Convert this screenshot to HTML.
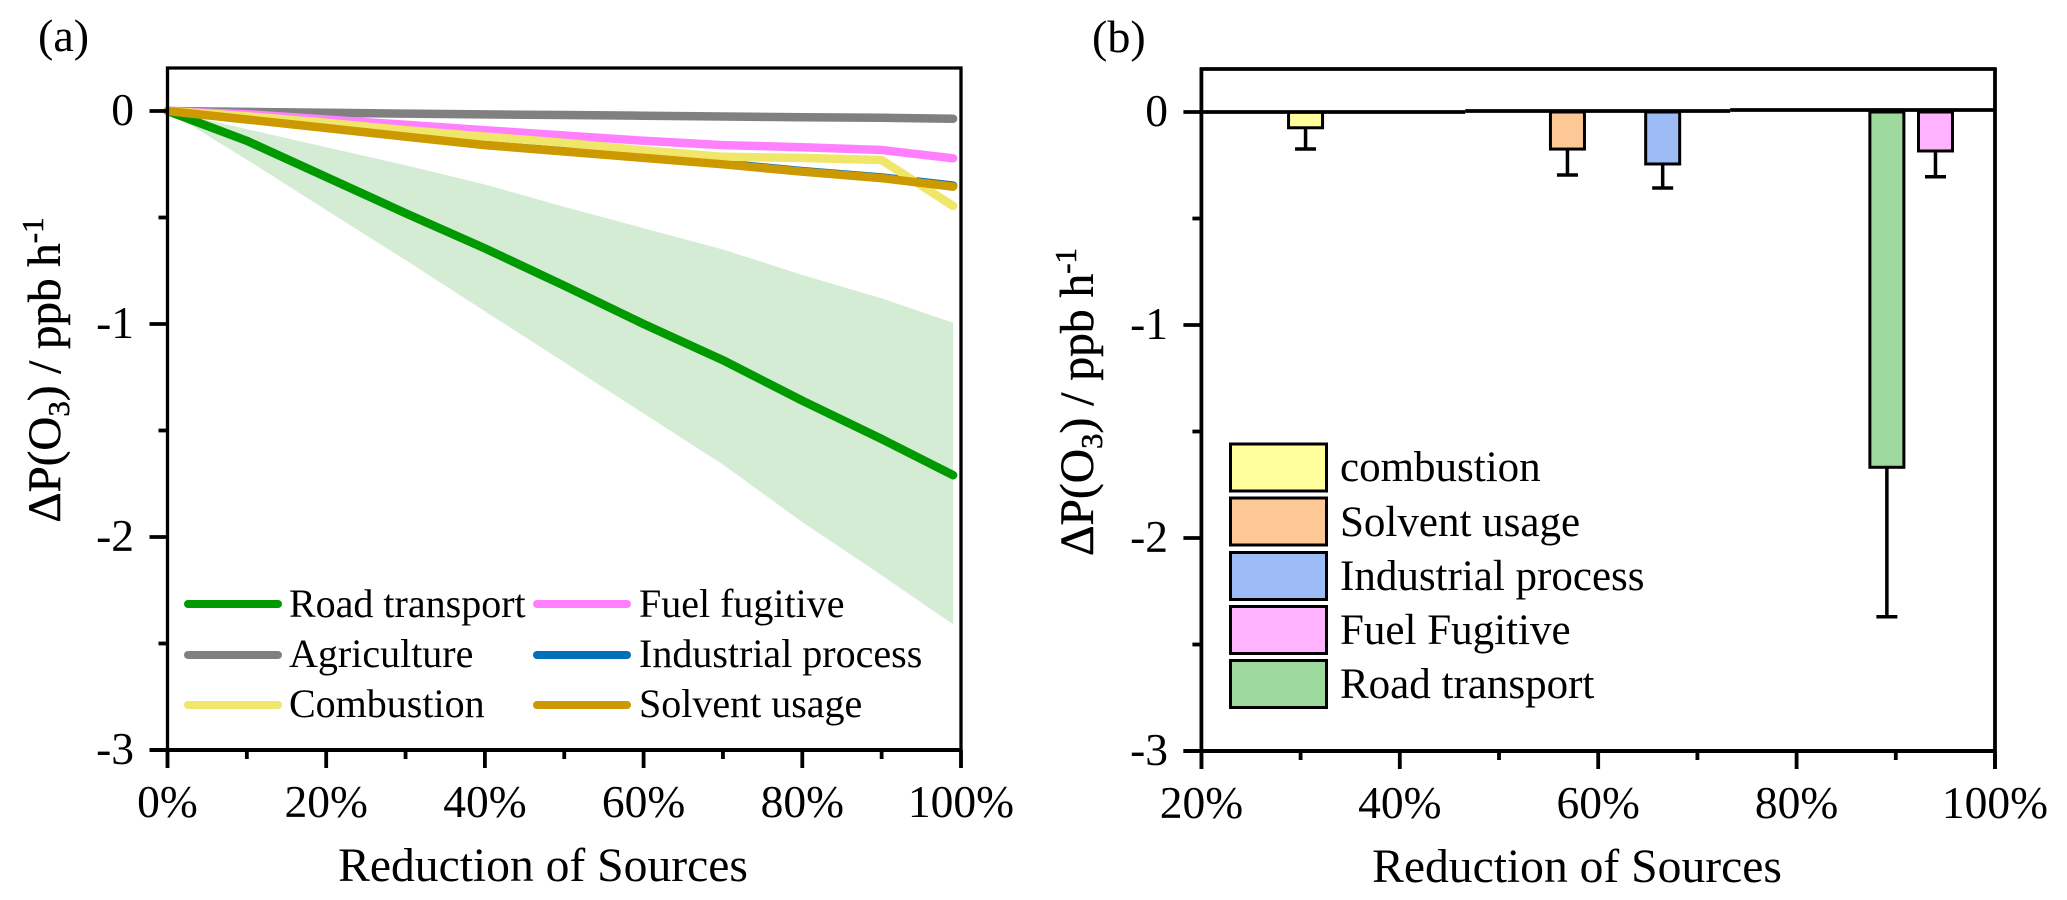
<!DOCTYPE html>
<html lang="en">
<head>
<meta charset="utf-8">
<title>Ozone production response to source reduction</title>
<style>
  html, body { margin: 0; padding: 0; background: #fff; }
  svg { display: block; }
  text { font-family: "Liberation Serif", "DejaVu Serif", serif; fill: #000; }
</style>
</head>
<body>
<svg id="figure" xmlns="http://www.w3.org/2000/svg" width="2067" height="900" viewBox="0 0 2067 900">
  <rect x="0" y="0" width="2067" height="900" fill="#fff"/>

  <text x="38" y="51" font-size="46">(a)</text>
  <text x="1092" y="52" font-size="46">(b)</text>

  <g id="panelA"></g>
  <g id="panelB"></g>

  <text x="543" y="881" font-size="47.6" text-anchor="middle">Reduction of Sources</text>
  <text x="1577" y="882" font-size="47.6" text-anchor="middle">Reduction of Sources</text>

  <text transform="translate(60 370) rotate(-90)" font-size="47" text-anchor="middle" stroke="#000" stroke-width="0.5">ΔP(O<tspan font-size="31" dy="9">3</tspan><tspan dy="-9">) / ppb h</tspan><tspan font-size="31" dy="-17">-1</tspan></text>
  <text transform="translate(1093 402) rotate(-90)" font-size="47.5" text-anchor="middle" stroke="#000" stroke-width="0.5">ΔP(O<tspan font-size="31" dy="9">3</tspan><tspan dy="-9">) / ppb h</tspan><tspan font-size="31" dy="-17">-1</tspan></text>

  <g font-size="40">
    <g>
      <line x1="188" y1="604" x2="278" y2="604" stroke="#009900" stroke-width="8" stroke-linecap="round"/>
      <text x="289" y="617">Road transport</text>
    </g>
    <g>
      <line x1="188" y1="655" x2="278" y2="655" stroke="#808080" stroke-width="8" stroke-linecap="round"/>
      <text x="289" y="667">Agriculture</text>
    </g>
    <g>
      <line x1="188" y1="705" x2="278" y2="705" stroke="#f0e66a" stroke-width="8" stroke-linecap="round"/>
      <text x="289" y="717">Combustion</text>
    </g>
    <g>
      <line x1="537" y1="604" x2="627" y2="604" stroke="#ff80ff" stroke-width="8" stroke-linecap="round"/>
      <text x="639" y="617">Fuel fugitive</text>
    </g>
    <g>
      <line x1="537" y1="655" x2="627" y2="655" stroke="#0070b8" stroke-width="8" stroke-linecap="round"/>
      <text x="639" y="667">Industrial process</text>
    </g>
    <g>
      <line x1="537" y1="705" x2="627" y2="705" stroke="#cc9900" stroke-width="8" stroke-linecap="round"/>
      <text x="639" y="717">Solvent usage</text>
    </g>
  </g>

  <g font-size="43">
    <g>
      <rect x="1230.5" y="444" width="96" height="47" fill="#ffff9e" stroke="#000" stroke-width="3"/>
      <text x="1340" y="481">combustion</text>
    </g>
    <g>
      <rect x="1230.5" y="498" width="96" height="47" fill="#fdc896" stroke="#000" stroke-width="3"/>
      <text x="1340" y="536">Solvent usage</text>
    </g>
    <g>
      <rect x="1230.5" y="552.500" width="96" height="47" fill="#9dbcf5" stroke="#000" stroke-width="3"/>
      <text x="1340" y="590">Industrial process</text>
    </g>
    <g>
      <rect x="1230.5" y="606.500" width="96" height="47" fill="#ffb3ff" stroke="#000" stroke-width="3"/>
      <text x="1340" y="644">Fuel Fugitive</text>
    </g>
    <g>
      <rect x="1230.5" y="660.500" width="96" height="47" fill="#9dd89d" stroke="#000" stroke-width="3"/>
      <text x="1340" y="698">Road transport</text>
    </g>
  </g>
</svg>

<script>
// ---------- Panel (a) data ----------
const reductionPct = [0, 10, 20, 30, 40, 50, 60, 70, 80, 90, 99];
const roadTransport = [0, -0.14, -0.31, -0.48, -0.645, -0.82, -1.0, -1.17, -1.36, -1.54, -1.71];
const roadUpper = [0, -0.085, -0.17, -0.255, -0.345, -0.45, -0.55, -0.65, -0.77, -0.88, -0.994];
const roadLower = [0, -0.228, -0.465, -0.70, -0.94, -1.18, -1.42, -1.66, -1.93, -2.18, -2.41];
const agriculture = [0, -0.004, -0.008, -0.012, -0.016, -0.019, -0.022, -0.026, -0.029, -0.032, -0.036];
const fuelFugitive = [0, -0.015, -0.04, -0.065, -0.09, -0.115, -0.14, -0.16, -0.17, -0.183, -0.222];
const industrialProcess = [0, -0.037, -0.077, -0.117, -0.157, -0.187, -0.217, -0.247, -0.282, -0.312, -0.35];
const combustion = [0, -0.025, -0.055, -0.09, -0.12, -0.15, -0.185, -0.215, -0.22, -0.23, -0.446];
const solventUsage = [0, -0.04, -0.08, -0.12, -0.16, -0.19, -0.22, -0.25, -0.285, -0.315, -0.355];

// ---------- Panel (b) data ----------
const barCategories = ['combustion', 'solvent-usage', 'industrial-process', 'road-transport', 'fuel-fugitive'];
const barPositions = [30.5, 56.9, 66.5, 89.1, 94];
const barValues = [-0.074, -0.174, -0.244, -1.668, -0.183];
const barErrorEnds = [-0.174, -0.296, -0.357, -2.37, -0.304];

// ---------- Tick labels ----------
const yTickValues = [0, -1, -2, -3];
const yMinorValues = [-0.5, -1.5, -2.5];
const xTicksA = [0, 20, 40, 60, 80, 100];
const xMinorA = [10, 30, 50, 70, 90];
const xTicksB = [20, 40, 60, 80, 100];
const xMinorB = [30, 50, 70, 90];

const SVG_NS = 'http://www.w3.org/2000/svg';
const barColors = ['#ffff9e', '#fdc896', '#9dbcf5', '#9dd89d', '#ffb3ff'];

function make(parent, tag, attrs, content) {
  const el = document.createElementNS(SVG_NS, tag);
  for (const k in attrs) el.setAttribute(k, attrs[k]);
  if (content !== undefined) el.textContent = content;
  parent.appendChild(el);
  return el;
}

// Axis functions
function xA(p) { return 167.5 + (p - 0) * (961 - 167.5) / 100; }
function yA(v) { return 111 + (0 - v) * 213; }
function xB(p) { return 1201.4 + (p - 20) * (1995 - 1201.4) / 80; }
function yB(v) { return 112 + (0 - v) * 213; }

function pathFrom(xs, ys) {
  return xs.map((p, i) => (i ? 'L' : 'M') + xA(p).toFixed(1) + ' ' + yA(ys[i]).toFixed(1)).join(' ');
}

const panelA = document.getElementById('panelA');
const panelB = document.getElementById('panelB');

// ---------- Panel (a) marks ----------
const bandPoints = reductionPct.map((p, i) => xA(p).toFixed(1) + ',' + yA(roadUpper[i]).toFixed(1))
  .concat(reductionPct.slice().reverse().map((p, i) => {
    const j = reductionPct.length - 1 - i;
    return xA(p).toFixed(1) + ',' + yA(roadLower[j]).toFixed(1);
  })).join(' ');
const band = make(panelA, 'polygon', { points: bandPoints, fill: '#d3ecd3' });



const seriesLine = (values, color) => make(panelA, 'path', {
  d: pathFrom(reductionPct, values), fill: 'none', stroke: color,
  'stroke-width': 8.5, 'stroke-linecap': 'round', 'stroke-linejoin': 'round'
});

const lineRoad = seriesLine(roadTransport, '#009900');



const lineAgri = seriesLine(agriculture, '#808080');



const lineFuel = seriesLine(fuelFugitive, '#ff80ff');



const lineInd = seriesLine(industrialProcess, '#0070b8');



const lineComb = seriesLine(combustion, '#f0e66a');



const lineSolv = seriesLine(solventUsage, '#cc9900');



// ---------- Panel (b) marks ----------
barCategories.forEach((cat, i) => {
  const cx = xB(barPositions[i]);
  const halfW = 17;
  const top = yB(0);
  const bottom = yB(barValues[i]);
  const errEnd = yB(barErrorEnds[i]);

  const stem = make(panelB, 'line', { x1: cx, y1: bottom, x2: cx, y2: errEnd, stroke: '#000', 'stroke-width': 3.5 });
  
  

  const cap = make(panelB, 'line', { x1: cx - 10.5, y1: errEnd, x2: cx + 10.5, y2: errEnd, stroke: '#000', 'stroke-width': 3.5 });
  
  

  const bar = make(panelB, 'rect', {
    x: cx - halfW, y: top, width: halfW * 2, height: bottom - top,
    fill: barColors[i], stroke: '#000', 'stroke-width': 3
  });
  
  
});

// ---------- Axes ----------
function drawAxes(parent, prefix, xFn, yFn, left, right, top, bottom, xTicks, xMinor, labelBaseline, yLabelRight, frameW) {
  const frame = [
    [left, top - 1.5, left, bottom + 18, frameW, 'left-axis'],
    [right, top - 1.5, right, bottom + 18, frameW, 'right-axis'],
    [left - 1.5, top, right + 1.5, top, frameW, 'top-axis'],
    [left - 18, bottom, right + 1.5, bottom, 4, 'bottom-axis']
  ];
  frame.forEach(f => {
    const ln = make(parent, 'line', { x1: f[0], y1: f[1], x2: f[2], y2: f[3], stroke: '#000', 'stroke-width': f[4] });
    
    
  });

  xTicks.forEach(p => {
    const x = xFn(p);
    const tick = make(parent, 'line', { x1: x, y1: bottom, x2: x, y2: bottom + 18, stroke: '#000', 'stroke-width': 3.8 });
    
    
    const label = make(parent, 'text', { x: x, y: labelBaseline, 'font-size': 45.5, 'text-anchor': 'middle' }, p + '%');
    
    
  });
  xMinor.forEach(p => {
    const x = xFn(p);
    const tick = make(parent, 'line', { x1: x, y1: bottom, x2: x, y2: bottom + 9, stroke: '#000', 'stroke-width': 3.8 });
    
    
  });

  yTickValues.forEach(v => {
    const y = yFn(v);
    const tick = make(parent, 'line', { x1: left - 18, y1: y, x2: left, y2: y, stroke: '#000', 'stroke-width': 3.8 });
    
    
    const label = make(parent, 'text', { x: yLabelRight, y: y + 14, 'font-size': 45.5, 'text-anchor': 'end' }, String(v));
    
    
  });
  yMinorValues.forEach(v => {
    const y = yFn(v);
    const tick = make(parent, 'line', { x1: left - 9, y1: y, x2: left, y2: y, stroke: '#000', 'stroke-width': 3.8 });
    
    
  });
}

drawAxes(panelA, 'panel-a', xA, yA, xA(0), xA(100), 68, yA(-3), xTicksA, xMinorA, 817, 134, 3.3);
drawAxes(panelB, 'panel-b', xB, yB, xB(20), xB(100), 69, yB(-3), xTicksB, xMinorB, 818, 1168, 3.8);

// Zero baseline of panel (b), as three slightly stepped segments
const zeroSegmentStarts = [20, 46.6, 73.3];
const zeroSegmentEnds = [46.6, 73.3, 100];
const zeroSegmentSteps = [0, -1, -2];
zeroSegmentStarts.forEach((s, i) => {
  const y = yB(0) + zeroSegmentSteps[i];
  const seg = make(panelB, 'line', { x1: xB(s), y1: y, x2: xB(zeroSegmentEnds[i]), y2: y, stroke: '#000', 'stroke-width': 3.8 });
  
  
});
</script>
</body>
</html>
